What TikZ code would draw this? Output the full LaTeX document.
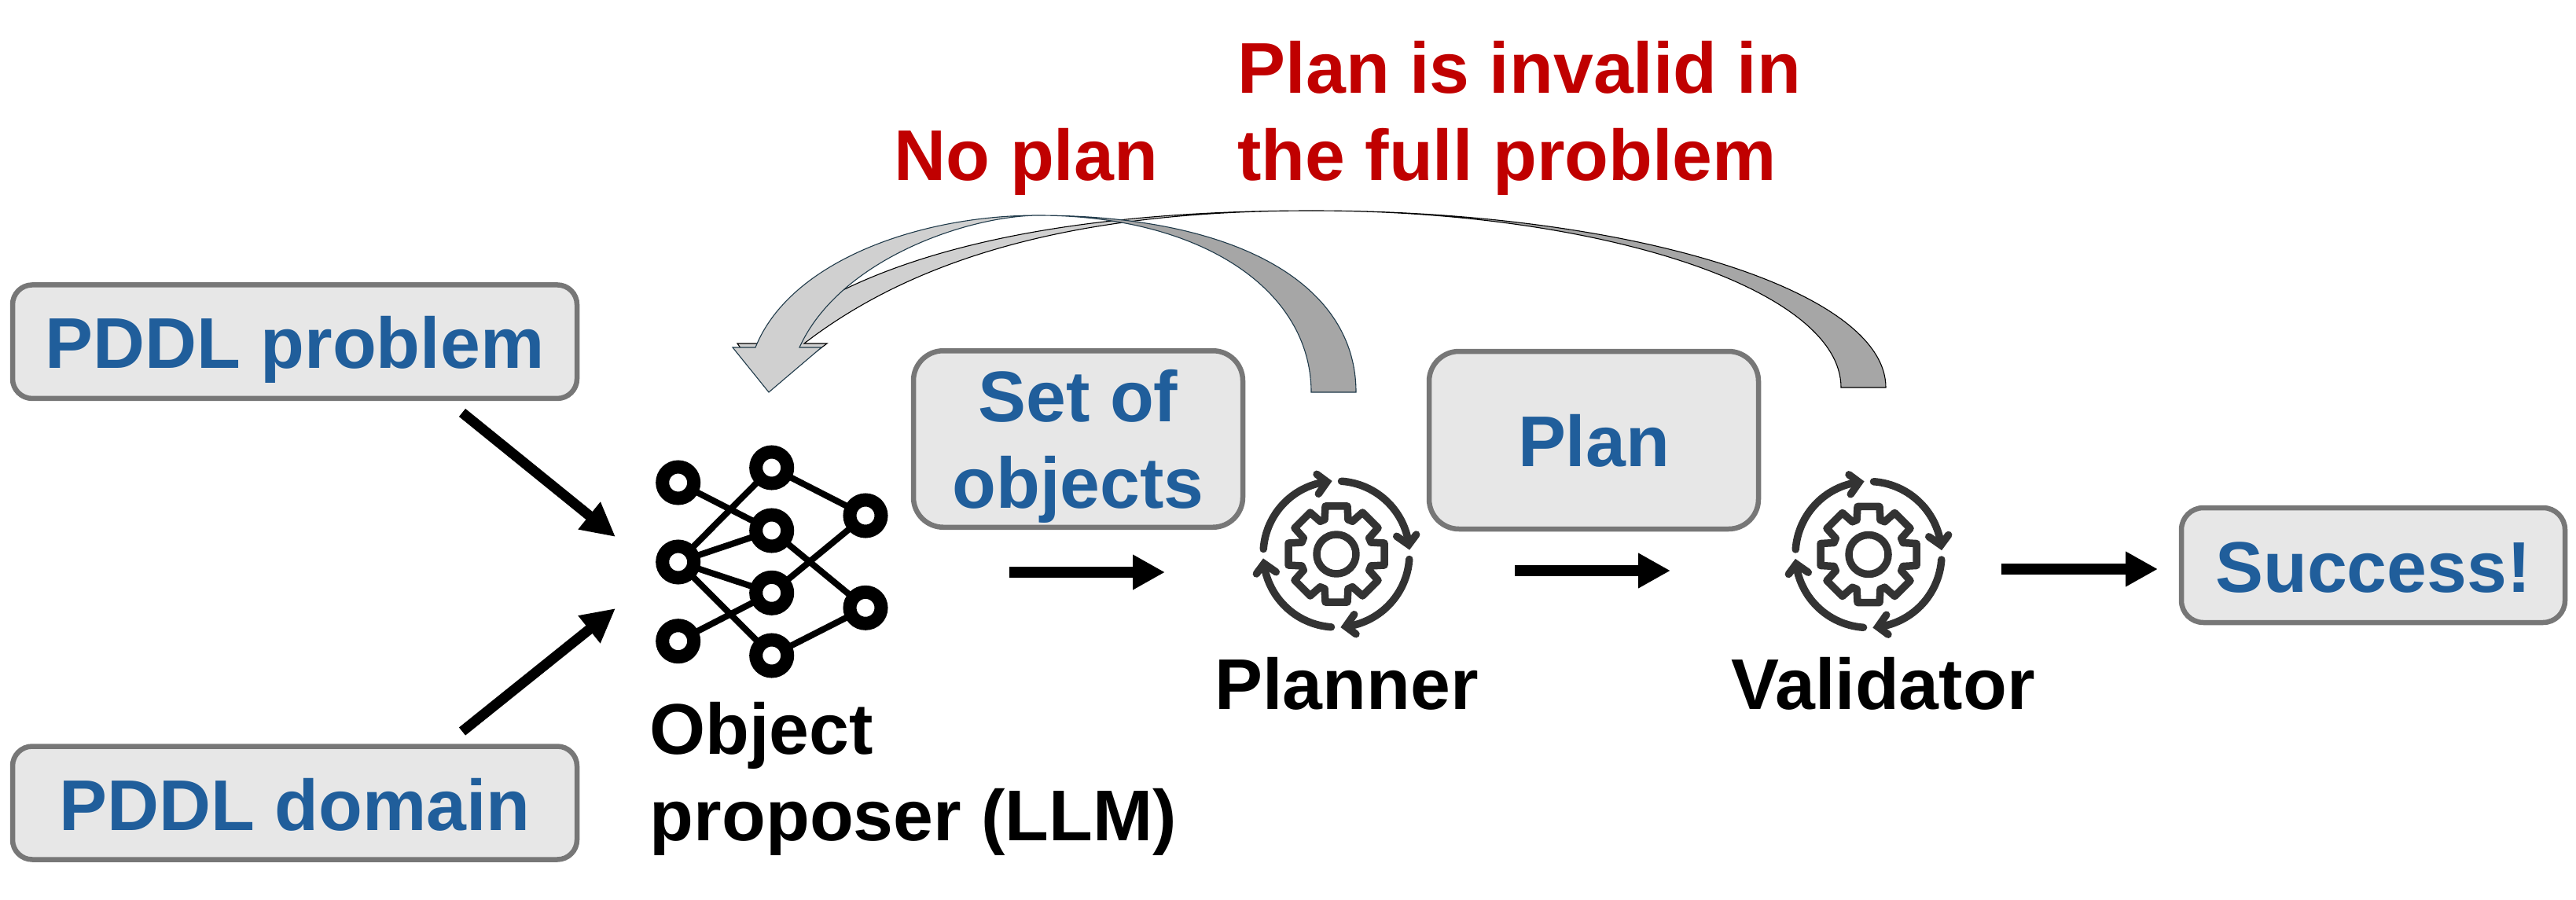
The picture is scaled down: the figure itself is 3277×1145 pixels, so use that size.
\documentclass[tikz,border=0pt]{standalone}
\usepackage{fontspec}
\setmainfont{Liberation Sans}
\usetikzlibrary{arrows.meta}
\definecolor{boxfill}{HTML}{E7E7E7}
\definecolor{boxline}{HTML}{777777}
\definecolor{bluetext}{HTML}{205E9B}
\definecolor{redtext}{HTML}{C00000}
\definecolor{geardark}{HTML}{333333}
\definecolor{foldlight}{HTML}{D0D0D0}
\definecolor{folddark}{HTML}{A6A6A6}
\definecolor{edgeblue}{HTML}{1F3A4A}
\newcommand{\bigfont}{\fontsize{91.4}{110}\selectfont\bfseries}
\tikzset{
  databox/.style={draw=boxline,fill=boxfill,line width=6.5pt,inner sep=0pt,outer sep=0pt,align=center,
    text=bluetext,font=\bigfont},
  caption/.style={inner sep=0pt,anchor=base,font=\bigfont,text=black},
  redcaption/.style={caption,text=redtext},
  flowarrow/.style={line width=14pt,-{Triangle[length=41pt,width=42pt]}},
  inputarrow/.style={line width=13pt,-{Triangle[length=43pt,width=42pt]}},
  neuron/.style={circle,draw=black,fill=white,line width=17pt,minimum size=40pt,inner sep=0pt,outer sep=0pt},
  synapse/.style={line width=8pt,black},
  gearline/.style={draw=geardark,line width=9.5pt,line cap=round,line join=round},
  gearhead/.style={draw=geardark,line width=9.5pt,line cap=round,line join=miter},
  lightfold/.style={fill=foldlight,line width=1.1pt},
  darkfold/.style={fill=folddark,line width=1.1pt},
}
\newcommand{\cyclegear}[2]{%
  \coordinate (#1) at (#2);
  \begin{scope}[shift={(#2)}]
    \draw[gearline] (0,0) circle[radius=25pt];
    \foreach \a in {0,45,...,315}{
      \draw[gearline] (\a-26.2:46.5) -- (\a-18.8:46.5) -- (\a-12.9:62.6) -- (\a+12.9:62.6) -- (\a+18.8:46.5);
    }
    \foreach \r in {0,90,180,270}{
      \begin{scope}[rotate=\r]
        \draw[gearline] plot[domain=184:258,samples=30] (\x:93);
        \draw[gearhead] (256.2:104.7) -- (262.6:92.8) -- (253.5:80);
      \end{scope}
    }
  \end{scope}%
}
\begin{document}
\begin{tikzpicture}[x=1pt,y=-1pt]
\useasboundingbox (0,0) rectangle (3277,1145);

% input boxes
\node[databox,rounded corners=25pt,minimum width=718pt,minimum height=144.5pt,text height=66.6pt,text depth=0pt]
  (problem) at (375,434.7) {PDDL problem};
\node[databox,rounded corners=25pt,minimum width=718pt,minimum height=144pt,text height=69pt,text depth=0pt]
  (domain) at (375,1021.5) {PDDL domain};

% result boxes
\node[databox,rounded corners=38pt,minimum width=419pt,minimum height=224.5pt]
  (objects) at (1371.5,558.5) {Set of\\\smash{objects}};
\node[databox,rounded corners=38pt,minimum width=419pt,minimum height=226pt,text height=66pt,text depth=0pt]
  (plan) at (2027.5,560) {Plan};
\node[databox,rounded corners=28pt,minimum width=488pt,minimum height=146pt,text height=68pt,text depth=0pt]
  (success) at (3019,719) {Success!};

% neural network icon
\node[neuron] (na) at (862.7,614) {};
\node[neuron] (nb) at (862.7,715) {};
\node[neuron] (nc) at (862.7,815.7) {};
\node[neuron] (nd) at (981.7,595) {};
\node[neuron] (ne) at (981.7,675) {};
\node[neuron] (nf) at (981.7,754.3) {};
\node[neuron] (ng) at (981.7,834) {};
\node[neuron] (nh) at (1101,656) {};
\node[neuron] (ni) at (1101,773.3) {};
\foreach \p/\q in {na/ne,nb/nd,nb/ne,nb/nf,nb/ng,nc/nf,nd/nh,ne/ni,nf/nh,ng/ni}
  \draw[synapse] (\p) -- (\q);

% gears
\cyclegear{planner}{1700,705}
\cyclegear{validator}{2377,705.5}

% captions
\node[caption] (proposerA) at (968.5,959) {Object};
\node[caption] (proposerB) at (1162,1069) {proposer (LLM)};
\node[caption] (plannerlabel) at (1713,902) {Planner};
\node[caption] (validatorlabel) at (2395.5,902) {Validator};
\node[redcaption] (invalidA) at (1933,119) {Plan is invalid in};
\node[redcaption] (invalidB) at (1917,229) {the full problem};
\node[redcaption] (noplan) at (1305.5,229) {No plan};

% straight connectors
\coordinate (problemout) at (588,525);
\coordinate (domainout) at (588,930.5);
\coordinate (netin1) at (783,683);
\coordinate (netin2) at (783,774);
\coordinate (objA) at (1284,728);
\coordinate (objB) at (1482,728);
\coordinate (planA) at (1927,726);
\coordinate (planB) at (2125,726);
\coordinate (valA) at (2546,724);
\coordinate (valB) at (2745,724);
\draw[inputarrow] (problemout) -- (netin1);
\draw[inputarrow] (domainout) -- (netin2);
\draw[flowarrow] (objA) -- (objB);
\draw[flowarrow] (planA) -- (planB);
\draw[flowarrow] (valA) -- (valB);

% curved arrow: validator back to proposer
\draw[darkfold,draw=black] (2399,493) .. controls (2399,369) and (2072,268) .. (1669,268)
  .. controls (2041,268) and (2342,369) .. (2342,493) -- cycle;
\draw[lightfold,draw=black] (1669,268) .. controls (1400,268) and (1120,305) .. (967,437)
  -- (938,437) -- (978,493) -- (1052,437) -- (1023,437)
  .. controls (1190,308) and (1420,268) .. (1669,268) -- cycle;

% curved arrow: planner back to proposer
\draw[darkfold,draw=edgeblue] (1725,499) .. controls (1725,360) and (1571,274) .. (1320,274)
  .. controls (1530,274) and (1668,370) .. (1668,499) -- cycle;
\draw[lightfold,draw=edgeblue] (1320,274) .. controls (1170,274) and (1005,332) .. (961,442)
  -- (932,442) -- (978,499) -- (1045,442) -- (1017,442)
  .. controls (1068,330) and (1230,275) .. (1320,274) -- cycle;
\end{tikzpicture}
\end{document}
